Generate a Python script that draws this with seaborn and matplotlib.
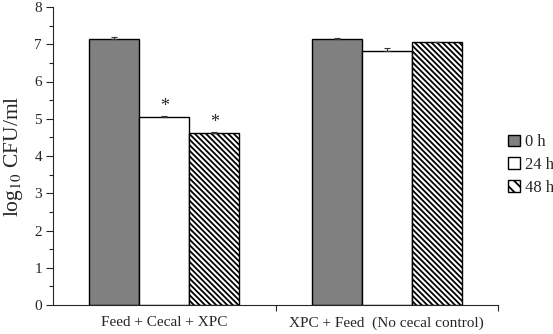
import numpy as np
import pandas as pd
import matplotlib
matplotlib.use("Agg")
import matplotlib.pyplot as plt
from matplotlib.ticker import MultipleLocator, FixedLocator
from matplotlib.patches import Patch
import seaborn as sns

groups = ["Feed + Cecal + XPC", "XPC + Feed  (No cecal control)"]
times = ["0 h", "24 h", "48 h"]
means_0h = [7.15, 7.15]
means_24h = [5.05, 6.83]
means_48h = [4.62, 7.05]
err_0h = [0.04, 0.03]
err_24h = [0.03, 0.08]
err_48h = [0.02, 0.02]
stars = [["", "*", "*"], ["", "", ""]]

df = pd.DataFrame({
    "group": groups * 3,
    "time": [t for t in times for _ in groups],
    "value": means_0h + means_24h + means_48h,
    "err": err_0h + err_24h + err_48h,
})

sns.set_style("ticks")
plt.rcParams["font.family"] = ["Liberation Serif", "DejaVu Serif"]
plt.rcParams["hatch.linewidth"] = 1.3
plt.rcParams["mathtext.fontset"] = "stix"

fills = ["#808080", "white", "white"]
hatches = ["", "", "\\" * 6]

fig = plt.figure(figsize=(5.53, 3.34), dpi=100)
ax = fig.add_axes([53 / 553, 29 / 334, 445 / 553, 298 / 334])

sns.barplot(data=df, x="group", y="value", hue="time", order=groups,
            hue_order=times, palette=fills, width=0.675, errorbar=None,
            edgecolor="black", linewidth=1.0, saturation=1, legend=False, ax=ax)

bar_conts = list(ax.containers)
for i, cont in enumerate(bar_conts):
    errs = df[df["time"] == times[i]]["err"].values
    for j, bar in enumerate(cont):
        bar.set_hatch(hatches[i])
        bar.set_facecolor(fills[i])
        bar.set_edgecolor("black")
        xc = bar.get_x() + bar.get_width() / 2
        h = bar.get_height()
        ax.errorbar(xc, h, yerr=[[0], [errs[j]]], fmt="none", ecolor="#333333",
                    elinewidth=0.8, capsize=2.5, capthick=0.8)
        if stars[j][i]:
            ax.text(xc, h + 0.04, stars[j][i], ha="center", va="bottom", fontsize=13)

ax.set_xlim(-0.5, 1.5)
ax.set_ylim(0, 8)
ax.yaxis.set_major_locator(MultipleLocator(1))
ax.yaxis.set_minor_locator(MultipleLocator(0.5))
ax.xaxis.set_minor_locator(FixedLocator([0.5, 1.5]))
ax.tick_params(axis="y", which="major", length=5, width=0.8, labelsize=11, pad=3)
ax.tick_params(axis="y", which="minor", length=3, width=0.8)
ax.tick_params(axis="x", which="major", length=0, labelsize=11, pad=8)
ax.tick_params(axis="x", which="minor", length=4, width=0.8)
sns.despine(ax=ax)
for s in ["left", "bottom"]:
    ax.spines[s].set_linewidth(0.8)
ax.set_xlabel("")
ax.set_ylabel("log$_{10}$ CFU/ml", fontsize=15.5, labelpad=7)

handles = [Patch(facecolor=fills[i], edgecolor="black", hatch="\\" * 3 if hatches[i] else "",
                 label=times[i]) for i in range(3)]
ax.legend(handles=handles, loc="center left", bbox_to_anchor=(1.0, 0.47),
          frameon=False, fontsize=12, handlelength=0.7, handleheight=0.7,
          handletextpad=0.3, labelspacing=0.4, borderaxespad=0.2)

fig.savefig("out.png", dpi=100)
